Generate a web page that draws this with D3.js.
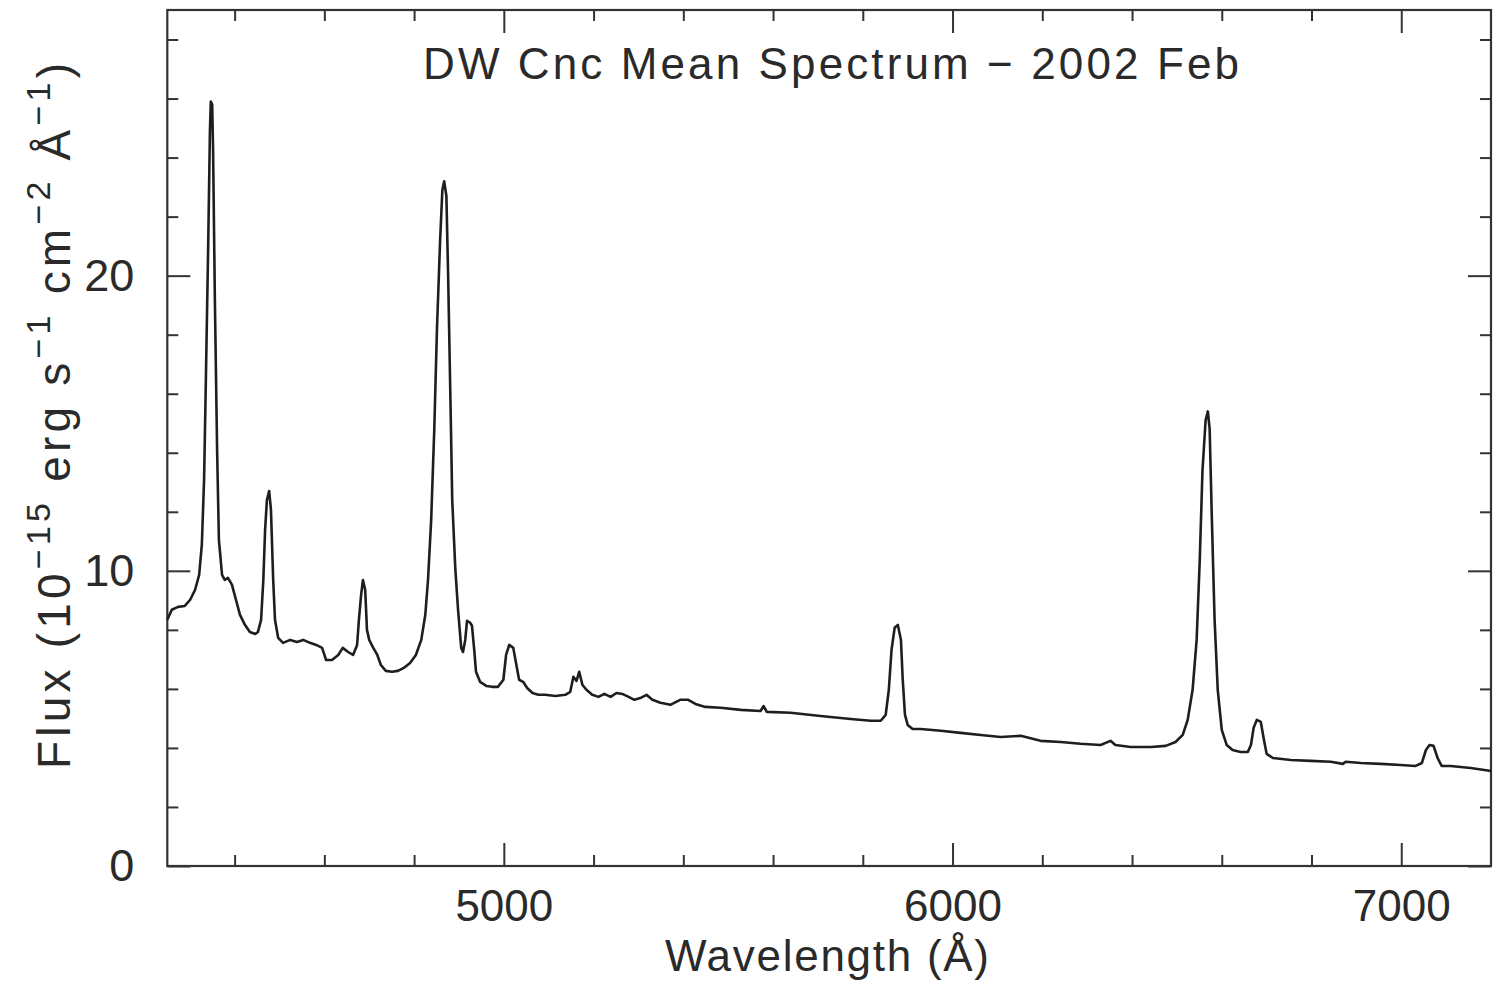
<!DOCTYPE html>
<html>
<head>
<meta charset="utf-8">
<title>DW Cnc Mean Spectrum</title>
<script src="https://cdn.jsdelivr.net/npm/d3@7"></script>
<style>
  body { margin: 0; background: #fff; }
  svg text { font-family: "Liberation Sans", "DejaVu Sans", sans-serif; fill: #2a2a2a; }
</style>
</head>
<body>
<svg id="chart" width="1508" height="984"></svg>
<script>
// Mean optical spectrum of DW Cnc, 2002 February (wavelength in Å, flux in 1e-15 erg/s/cm²/Å)
const wavelength = [
  4250, 4260, 4274, 4289, 4301, 4312, 4321, 4327, 4332, 4336, 4341, 4345, 4347, 4350, 4352,
  4356, 4361, 4365, 4372, 4378, 4385, 4394, 4403, 4412, 4423, 4434, 4446, 4452, 4459, 4464,
  4468, 4472, 4477, 4481, 4486, 4490, 4497, 4508, 4524, 4539, 4553, 4568, 4582, 4595, 4604,
  4617, 4631, 4641, 4653, 4664, 4673, 4677, 4682, 4686, 4691, 4695, 4700, 4709, 4718, 4726,
  4737, 4751, 4764, 4777, 4791, 4804, 4816, 4825, 4831, 4838, 4845, 4851, 4858, 4863, 4867,
  4872, 4876, 4881, 4885, 4892, 4898, 4905, 4909, 4914, 4918, 4925, 4929, 4934, 4938, 4947,
  4961, 4974, 4987, 4999, 5005, 5012, 5021, 5028, 5034, 5043, 5052, 5064, 5077, 5092, 5115,
  5137, 5148, 5155, 5162, 5168, 5175, 5184, 5197, 5211, 5224, 5238, 5251, 5264, 5278, 5291,
  5304, 5318, 5331, 5349, 5371, 5393, 5411, 5427, 5449, 5483, 5528, 5572, 5579, 5586, 5639,
  5706, 5773, 5818, 5840, 5851, 5858, 5864, 5871, 5878, 5885, 5889, 5894, 5900, 5911, 5929,
  5974, 6018, 6063, 6107, 6152, 6196, 6241, 6285, 6330, 6352, 6363, 6397, 6442, 6475, 6497,
  6513, 6524, 6535, 6544, 6551, 6557, 6564, 6569, 6573, 6578, 6584, 6591, 6600, 6611, 6624,
  6642, 6658, 6665, 6671, 6678, 6687, 6694, 6700, 6714, 6754, 6798, 6843, 6870, 6876, 6910,
  6954, 6999, 7032, 7046, 7055, 7063, 7072, 7081, 7090, 7110, 7155, 7200
];
const flux = [
  8.34, 8.68, 8.78, 8.81, 9.02, 9.36, 9.86, 10.9, 13.1, 16.5, 20.9, 24.9, 25.9, 25.8, 24.3,
  19.2, 14.1, 11.05, 9.86, 9.69, 9.76, 9.53, 9.02, 8.51, 8.17, 7.93, 7.86, 7.93, 8.34, 9.69,
  11.4, 12.4, 12.7, 12.07, 9.69, 8.34, 7.73, 7.56, 7.66, 7.59, 7.66, 7.56, 7.49, 7.39, 6.98,
  6.98, 7.15, 7.39, 7.25, 7.15, 7.49, 8.34, 9.19, 9.69, 9.36, 8.0, 7.66, 7.39, 7.15, 6.81,
  6.61, 6.58, 6.61, 6.71, 6.88, 7.15, 7.66, 8.51, 9.69, 11.7, 14.8, 18.2, 21.2, 22.9, 23.2,
  22.7, 19.9, 15.8, 12.4, 10.03, 8.68, 7.39, 7.25, 7.66, 8.31, 8.24, 8.14, 7.32, 6.58, 6.24,
  6.10, 6.07, 6.07, 6.31, 7.15, 7.49, 7.39, 6.81, 6.31, 6.24, 6.03, 5.86, 5.80, 5.80, 5.76,
  5.80, 5.90, 6.41, 6.27, 6.58, 6.14, 5.97, 5.80, 5.73, 5.83, 5.73, 5.86, 5.83, 5.73, 5.63,
  5.69, 5.80, 5.63, 5.53, 5.46, 5.63, 5.63, 5.49, 5.39, 5.36, 5.29, 5.25, 5.42, 5.22, 5.19,
  5.08, 4.98, 4.92, 4.92, 5.12, 5.97, 7.32, 8.07, 8.17, 7.66, 6.31, 5.12, 4.78, 4.64, 4.64,
  4.58, 4.51, 4.44, 4.37, 4.41, 4.24, 4.20, 4.14, 4.10, 4.24, 4.10, 4.03, 4.03, 4.07, 4.20,
  4.44, 4.95, 5.97, 7.66, 10.4, 13.4, 15.1, 15.4, 14.8, 11.7, 8.34, 5.97, 4.61, 4.10, 3.93,
  3.86, 3.86, 4.10, 4.68, 4.95, 4.88, 4.27, 3.80, 3.66, 3.59, 3.56, 3.53, 3.46, 3.53, 3.49,
  3.46, 3.42, 3.39, 3.49, 3.93, 4.10, 4.07, 3.66, 3.39, 3.39, 3.32, 3.22
];

// Axis ticks
const xMajorTicks = [5000, 6000, 7000];
const xMinorTicks = [4400, 4600, 4800, 5200, 5400, 5600, 5800, 6200, 6400, 6600, 6800];
const yMajorTicks = [0, 10, 20];
const yMinorTicks = [2, 4, 6, 8, 12, 14, 16, 18, 22, 24, 26, 28];

const titleText = "DW Cnc Mean Spectrum \u2212 2002 Feb";
const xLabelText = "Wavelength (\u00C5)";

const svg = d3.select("#chart");
const frame = { left: 167.3, right: 1491, top: 10, bottom: 866 };

const x = d3.scaleLinear().domain([4250, 7200]).range([frame.left, frame.right]);
const y = d3.scaleLinear().domain([0, 29]).range([frame.bottom, frame.top]);

svg.append("rect").attr("width", 1508).attr("height", 984).attr("fill", "#fff");

const majorLen = 23, minorLen = 11;

function styleAxis(g) {
  g.select(".domain").remove();
  g.selectAll(".tick line").attr("stroke", "#333").attr("stroke-width", 2);
  g.selectAll(".tick text")
    .style("font-family", "'Liberation Sans', 'DejaVu Sans', sans-serif")
    .attr("fill", "#2a2a2a");
}

// Bottom axis (labelled majors + minors)
svg.append("g").attr("transform", `translate(0,${frame.bottom})`)
  .call(d3.axisBottom(x).tickValues(xMajorTicks).tickSize(-majorLen).tickPadding(majorLen + 1).tickFormat(d3.format("d")))
  .call(styleAxis)
  .call(g => g.selectAll(".tick text").attr("font-size", 44));
svg.append("g").attr("transform", `translate(0,${frame.bottom})`)
  .call(d3.axisBottom(x).tickValues(xMinorTicks).tickSize(-minorLen).tickFormat(""))
  .call(styleAxis);

// Top axis (ticks only)
svg.append("g").attr("transform", `translate(0,${frame.top})`)
  .call(d3.axisTop(x).tickValues(xMajorTicks).tickSize(-majorLen).tickFormat(""))
  .call(styleAxis);
svg.append("g").attr("transform", `translate(0,${frame.top})`)
  .call(d3.axisTop(x).tickValues(xMinorTicks).tickSize(-minorLen).tickFormat(""))
  .call(styleAxis);

// Left axis
svg.append("g").attr("transform", `translate(${frame.left},0)`)
  .call(d3.axisLeft(y).tickValues(yMajorTicks).tickSize(-majorLen).tickPadding(majorLen + 10).tickFormat(d3.format("d")))
  .call(styleAxis)
  .call(g => g.selectAll(".tick text").attr("font-size", 45));
svg.append("g").attr("transform", `translate(${frame.left},0)`)
  .call(d3.axisLeft(y).tickValues(yMinorTicks).tickSize(-minorLen).tickFormat(""))
  .call(styleAxis);

// Right axis
svg.append("g").attr("transform", `translate(${frame.right},0)`)
  .call(d3.axisRight(y).tickValues(yMajorTicks).tickSize(-majorLen).tickFormat(""))
  .call(styleAxis);
svg.append("g").attr("transform", `translate(${frame.right},0)`)
  .call(d3.axisRight(y).tickValues(yMinorTicks).tickSize(-minorLen).tickFormat(""))
  .call(styleAxis);

// Frame
svg.append("rect")
  .attr("x", frame.left).attr("y", frame.top)
  .attr("width", frame.right - frame.left).attr("height", frame.bottom - frame.top)
  .attr("fill", "none").attr("stroke", "#333").attr("stroke-width", 2.2);

// Spectrum
const points = wavelength.map((w, i) => [w, flux[i]]);
svg.append("path")
  .datum(points)
  .attr("fill", "none")
  .attr("stroke", "#1e1e1e")
  .attr("stroke-width", 2.6)
  .attr("stroke-linejoin", "round")
  .attr("d", d3.line().x(d => x(d[0])).y(d => y(d[1])));

// Title
svg.append("text")
  .attr("x", 831).attr("y", 79)
  .attr("text-anchor", "middle")
  .attr("font-size", 44)
  .attr("textLength", 816)
  .text(titleText);

// X label
svg.append("text")
  .attr("x", 827).attr("y", 971)
  .attr("text-anchor", "middle")
  .attr("font-size", 44)
  .attr("textLength", 324)
  .text(xLabelText);

// Y label with superscripts
const yl = svg.append("text")
  .attr("transform", "translate(70,416) rotate(-90)")
  .attr("text-anchor", "middle")
  .attr("font-size", 46)
  .attr("textLength", 706);
const supShift = 20;
const parts = [
  ["Flux (10", false], ["\u221215", true], [" erg s", false], ["\u22121", true],
  [" cm", false], ["\u22122", true], [" \u00C5", false], ["\u22121", true], [")", false]
];
let raised = false;
parts.forEach(([t, sup]) => {
  const ts = yl.append("tspan").text(t);
  if (sup && !raised) { ts.attr("dy", -supShift).attr("font-size", 34); raised = true; }
  else if (sup) { ts.attr("font-size", 34); }
  else if (!sup && raised) { ts.attr("dy", supShift); raised = false; }
});
</script>
</body>
</html>
